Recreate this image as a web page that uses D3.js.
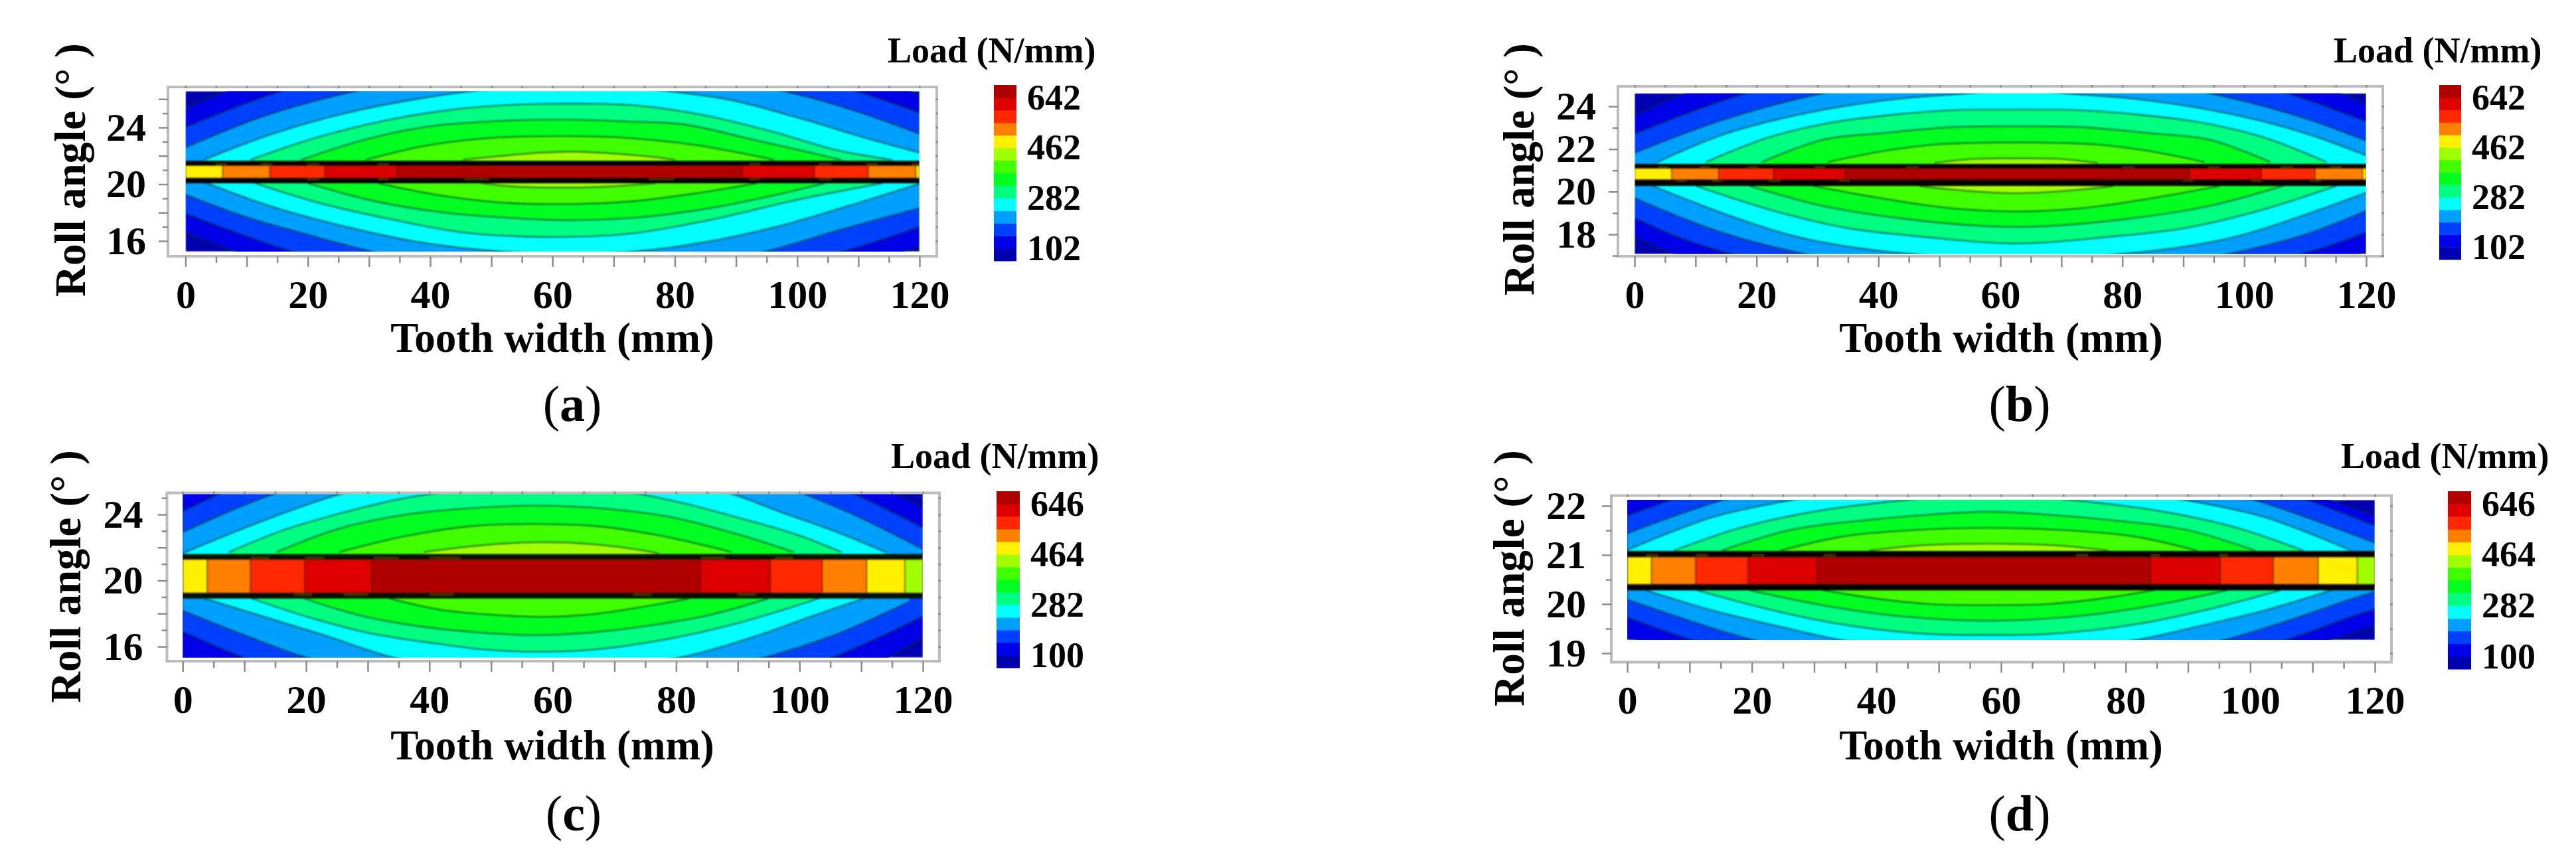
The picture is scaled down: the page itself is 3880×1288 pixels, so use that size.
<!DOCTYPE html>
<html>
<head>
<meta charset="utf-8">
<title>Tooth load distribution</title>
<script src="https://cdn.jsdelivr.net/npm/d3@7"></script>
<style>
    html, body { margin: 0; padding: 0; background: #fff; }
    svg { display: block; }
    text { font-family: "Liberation Serif", serif; font-weight: bold; fill: #000; }
</style>
</head>
<body>
<div id="chart"></div>
<script>
// Band colours, lowest load first (same 14 colours in plot and colour bar)
const bandColors = ['#0000b0', '#0000e8', '#0040ff', '#00a0ff', '#00ffff', '#00ff80', '#00ff20',
    '#40ff00', '#a0ff00', '#fff000', '#ff8000', '#ff2800', '#dd0000', '#b00000'];

// Tick values
const xMajor = [0, 10, 20, 30, 40, 50, 60, 70, 80, 90, 100, 110, 120];
const xMinor = [5, 15, 25, 35, 45, 55, 65, 75, 85, 95, 105, 115];
const xLabels = [0, 20, 40, 60, 80, 100, 120];

const yMajorA = [16, 18, 20, 22, 24, 26];
const yMinorA = [17, 19, 21, 23, 25];
const yLabelsA = [16, 20, 24];
const yMajorB = [18, 20, 22, 24];
const yMinorB = [17, 19, 21, 23];
const yLabelsB = [18, 20, 22, 24];
const yMajorC = [16, 18, 20, 22, 24];
const yMinorC = [17, 19, 21, 23, 25];
const yLabelsC = [16, 20, 24];
const yMajorD = [19, 20, 21, 22];
const yMinorD = [19.5, 20.5, 21.5];
const yLabelsD = [19, 20, 21, 22];

const loadLabelsAB = [102, 282, 462, 642];
const loadLabelsCD = [100, 282, 464, 646];

// Contour lines as [tooth width mm, roll angle deg], left to right, outermost level first
const upperA = [
    [[0, 25.34], [6.6, 26.56], [62.7, 28], [118.7, 26.56], [120, 26.3]],
    [[0, 24.02], [15.7, 26.56], [62.7, 28], [109.6, 26.56], [120, 25.03]],
    [[0, 22.6], [13.5, 24.9], [27.9, 26.56], [62.7, 27.8], [97.8, 26.56], [110, 25.1], [120, 23.55]],
    [[3, 21.72], [13.7, 23.47], [25.6, 24.95], [37.4, 25.97], [46.9, 26.56], [62.7, 27], [78.8, 26.56], [88.7, 25.97], [100.5, 24.64], [110.8, 23.31], [120, 22.22]],
    [[10.6, 21.72], [21.6, 23.31], [33.5, 24.56], [45.3, 25.34], [57.1, 25.65], [63.4, 25.68], [72.9, 25.58], [84.7, 24.87], [96.6, 23.63], [106.8, 22.37], [115.5, 21.72]],
    [[18.9, 21.72], [29.5, 23.16], [39, 24.02], [49.2, 24.41], [61.1, 24.56], [72.9, 24.41], [80.8, 24.25], [92.6, 23.16], [107.2, 21.72]],
    [[29.5, 21.72], [39, 22.69], [49.2, 23.24], [61.1, 23.39], [72.9, 23.24], [83.2, 22.77], [96.2, 21.72]],
    [[45.3, 21.72], [51.6, 21.99], [57.9, 22.22], [63.4, 22.3], [69, 22.19], [76.8, 21.91], [80, 21.72]]
];
const lowerA = [
    [[0, 16.6], [8.2, 15.23], [62.7, 13.5], [117.5, 15.23], [120, 15.6]],
    [[0, 17.93], [8.2, 16.6], [17.7, 15.23], [62.7, 14], [107.2, 15.23], [120, 17]],
    [[0, 19.26], [9.8, 17.7], [20, 16.45], [30.7, 15.23], [62.7, 14.2], [94.6, 15.23], [106.8, 16.76], [120, 18.32]],
    [[3.5, 20.07], [13.7, 18.48], [25.6, 17.07], [37.4, 15.98], [52.8, 15.23], [62.7, 15.05], [72.5, 15.23], [84.7, 15.9], [96.6, 17], [108.4, 18.48], [120, 20.04]],
    [[11.4, 20.07], [21.6, 18.71], [33.5, 17.54], [45.3, 16.61], [54.8, 16.32], [62.6, 16.29], [72.9, 16.53], [84.7, 17.39], [100.5, 18.95], [113.9, 20.07]],
    [[20, 20.07], [31.1, 18.79], [42.1, 18.01], [53.2, 17.62], [62.6, 17.46], [72.9, 17.62], [84.7, 18.24], [95, 19.1], [104.5, 20.07]],
    [[31.5, 20.07], [42.1, 19.18], [51.6, 18.71], [62.6, 18.6], [72.9, 18.79], [83.2, 19.34], [93.4, 20.07]],
    [[48.4, 20.07], [52.4, 19.88], [62.6, 19.76], [72.1, 19.91], [76.8, 20.07]]
];

const upperB = [
    [[0, 23.59], [8.2, 24.62], [62.6, 26], [116, 24.62], [120, 24.1]],
    [[0, 22.72], [18.2, 24.62], [62.6, 26], [107, 24.62], [120, 23.3]],
    [[0, 21.82], [14.2, 23.35], [30.9, 24.62], [62.6, 25.6], [94.3, 24.62], [111, 23.35], [120, 22.4]],
    [[3.8, 21.39], [14.2, 22.65], [22.6, 23.33], [30.9, 23.84], [43.4, 24.36], [55, 24.62], [62.6, 24.8], [70.2, 24.62], [81.8, 24.36], [94.3, 23.84], [102.6, 23.33], [111, 22.65], [120, 21.7]],
    [[11.7, 21.39], [22.6, 22.6], [30.9, 23.17], [43.4, 23.64], [53.4, 23.84], [62.6, 23.85], [71.8, 23.84], [81.8, 23.64], [94.3, 23.17], [102.6, 22.6], [113.5, 21.39]],
    [[20.9, 21.39], [30.9, 22.44], [41.3, 22.76], [50.9, 23.01], [62.6, 23.07], [74.3, 23.01], [83.9, 22.76], [94.3, 22.44], [104.3, 21.39]],
    [[31.7, 21.39], [41.3, 21.93], [49.6, 22.22], [55.9, 22.29], [62.6, 22.31], [69.3, 22.29], [75.6, 22.22], [83.9, 21.93], [93.5, 21.39]],
    [[49.2, 21.35], [55.9, 21.54], [62.6, 21.56], [69.3, 21.54], [76, 21.35]]
];
const lowerB = [
    [[0, 17.88], [6.3, 17.07], [62.6, 15.4], [118.9, 17.07], [120, 17.2]],
    [[0, 18.76], [8, 17.78], [15.9, 17.07], [62.6, 15.8], [109.3, 17.07], [117.2, 17.78], [120, 18.1]],
    [[0, 19.7], [14.2, 18.09], [28, 17.07], [62.6, 16.2], [97.2, 17.07], [111, 18.09], [120, 19.1]],
    [[3, 20.27], [14.2, 19.02], [26.7, 17.88], [39.2, 17.26], [46.7, 17.05], [62.6, 16.7], [78.5, 17.05], [86, 17.26], [98.5, 17.88], [111, 19.02], [120, 19.95]],
    [[10.1, 20.27], [22.6, 19.12], [35, 18.29], [47.5, 17.88], [62.6, 17.57], [77.7, 17.88], [90.2, 18.29], [102.6, 19.12], [115.1, 20.27]],
    [[18.8, 20.27], [30.9, 19.33], [43.4, 18.76], [62.6, 18.35], [81.8, 18.76], [94.3, 19.33], [106.4, 20.27]],
    [[29.2, 20.27], [39.2, 19.75], [51.7, 19.23], [62.6, 19.07], [73.5, 19.23], [86, 19.75], [96, 20.27]],
    [[46.7, 20.27], [51.7, 20.11], [62.6, 19.93], [73.5, 20.11], [78.5, 20.27]]
];

const upperC = [
    [[-5, 26.5], [58, 27.5], [115.3, 25.3], [120, 24.47]],
    [[0, 24.2], [6.3, 25.3], [58, 27], [108.4, 25.3], [120, 23.2]],
    [[0, 22.93], [15.2, 25.3], [58, 26.8], [100.3, 25.3], [109.6, 23.85], [120, 21.9]],
    [[0, 21.65], [12.4, 23.53], [26.2, 25.3], [58, 26.5], [88.6, 25.3], [97.5, 24.07], [105.6, 23], [114.1, 21.7]],
    [[7.5, 21.72], [16.4, 23.06], [26.2, 24.13], [34.3, 24.87], [41.2, 25.3], [57.5, 25.9], [73.2, 25.3], [81.3, 24.67], [89.4, 23.87], [99.9, 22.73], [106.8, 21.72]],
    [[15.2, 21.72], [24.6, 23.06], [35.1, 23.93], [44.8, 24.33], [57, 24.53], [69.1, 24.33], [79.7, 23.8], [89.4, 22.86], [99.1, 21.72]],
    [[25.4, 21.72], [36.7, 22.73], [48, 23.33], [57.8, 23.42], [65.9, 23.33], [77.2, 22.73], [89, 21.72]],
    [[39.1, 21.72], [44.8, 21.99], [51.3, 22.22], [58.2, 22.32], [66.7, 22.19], [74, 21.86], [77.2, 21.65]]
];
const lowerC = [
    [[-5, 14.8], [58, 13.6], [114.5, 15.33], [120, 16.56]],
    [[0, 16.9], [10, 15.33], [58, 14], [105.2, 15.33], [120, 17.83]],
    [[0, 18.17], [10, 16.69], [20.1, 15.33], [58, 14.4], [94.2, 15.33], [105.6, 16.69], [117.7, 18.7]],
    [[3.5, 18.91], [12.4, 17.9], [22.9, 16.69], [34.3, 15.33], [58, 14.8], [80.5, 15.33], [93.4, 16.69], [101.5, 17.77], [110.4, 18.91]],
    [[11.2, 18.91], [20.5, 17.77], [31, 16.76], [41.6, 16.16], [48.9, 15.82], [57.8, 15.69], [66.7, 15.82], [77.2, 16.36], [89.4, 17.36], [103.1, 18.91]],
    [[19.7, 18.91], [28.6, 17.9], [38.3, 17.23], [48.9, 16.83], [57.8, 16.69], [67.5, 16.9], [77.2, 17.36], [85.3, 17.9], [95, 18.91]],
    [[33.5, 18.91], [41.6, 18.24], [51.3, 17.9], [58.2, 17.8], [66.7, 17.97], [74, 18.37], [82.1, 18.91]],
    [[45, 19.1], [58, 19.1], [70, 19.1]]
];

const upperD = [
    [[-5, 22.6], [58, 23], [113, 22.12], [120, 21.8]],
    [[0, 21.8], [6.9, 22.12], [58, 23], [109.1, 22.12], [116, 21.8], [120, 21.6]],
    [[0, 21.44], [15.4, 22.12], [58, 22.8], [100.6, 22.12], [116, 21.44], [120, 21.25]],
    [[0, 21.1], [14, 21.78], [26.4, 22.12], [58, 22.6], [89.6, 22.12], [102, 21.78], [116, 21.1]],
    [[7.5, 21.09], [18.1, 21.55], [30.3, 21.89], [44.7, 22.12], [58, 22.3], [71.3, 22.12], [85.7, 21.89], [97.9, 21.55], [108.5, 21.09]],
    [[15.2, 21.09], [26.2, 21.51], [38.4, 21.71], [46.5, 21.8], [58, 21.88], [69.5, 21.8], [77.6, 21.71], [89.8, 21.51], [100.8, 21.09]],
    [[24.6, 21.09], [34.3, 21.37], [46.5, 21.51], [58, 21.55], [69.5, 21.51], [81.7, 21.37], [91.4, 21.09]],
    [[38.8, 21.09], [46.5, 21.19], [58, 21.23], [69.5, 21.19], [77.2, 21.09]]
];
const lowerD = [
    [[-5, 19.4], [58, 18.5], [113, 19.27], [120, 19.55]],
    [[0, 19.73], [10, 19.28], [58, 18.7], [106, 19.28], [116, 19.73], [120, 19.9]],
    [[0, 20.09], [10, 19.66], [20.1, 19.27], [58, 18.9], [95.9, 19.27], [106, 19.66], [116, 20.09], [120, 20.25]],
    [[3, 20.28], [14, 19.86], [24.2, 19.55], [34.3, 19.27], [58, 19.1], [81.7, 19.27], [91.8, 19.55], [102, 19.86], [113, 20.28]],
    [[11.2, 20.28], [22.2, 19.91], [34.3, 19.59], [48.6, 19.39], [58, 19.37], [67.4, 19.39], [81.7, 19.59], [93.8, 19.91], [104.8, 20.28]],
    [[19.7, 20.28], [30.3, 20], [42.5, 19.77], [50.6, 19.69], [58, 19.66], [65.4, 19.69], [73.5, 19.77], [85.7, 20], [96.3, 20.28]],
    [[31.5, 20.28], [38.4, 20.14], [48.6, 20], [58, 19.98], [67.4, 20], [77.6, 20.14], [84.5, 20.28]],
    [[45, 20.4], [58, 20.4], [71, 20.4]]
];

// Contact band: cell edges along the tooth width and their colour index in bandColors
const cellEdgesAB = [0, 6.1, 13.8, 22.8, 34.6, 91, 102.8, 111.6, 119.4, 120];
const cellBandsAB = [9, 10, 11, 12, 13, 12, 11, 10, 9];
const cellEdgesC = [0, 4, 11, 19.8, 30.7, 83.9, 95.3, 103.7, 110.9, 117.1, 120];
const cellEdgesD = [0, 3.9, 11, 19.4, 30.5, 84, 95.2, 103.7, 110.9, 117.2, 120];
const cellBandsCD = [9, 10, 11, 12, 13, 12, 11, 10, 9, 8];

// Olive blots in the black rows of the contact band: from mm, to mm, side (1 above, 0 below)
const blotsA = [[4.9, 6.7, 1], [12.3, 14.2, 1], [19.8, 21.9, 1], [31.4, 33.3, 1], [19.8, 21.9, 0], [31.4, 33.3, 0],
    [45.5, 49.7, 0], [75.7, 79.9, 0], [92.1, 94, 0], [103.5, 105.6, 0], [92.1, 94, 1], [103.5, 105.6, 1], [111.2, 113.1, 1], [118.7, 120, 1]];
const blotsB = [[3.8, 5.5, 1], [10.7, 12.4, 1], [18.5, 20.3, 1], [29.5, 31.3, 1], [44.5, 46.6, 1], [6.7, 8.5, 0], [12.6, 14.4, 0],
    [22, 24, 0], [33.5, 35.3, 0], [89.9, 91.7, 0], [101, 103, 0], [110.8, 112.6, 0], [80, 82, 1], [94, 96, 1], [106, 108, 1], [114, 116, 1]];
const blotsC = [[11, 14, 1], [19.8, 23, 1], [31, 35, 1], [40, 45, 1], [84, 88, 1], [96, 99, 1], [18, 21, 0], [26, 30, 0], [40, 44, 0], [73, 76, 0], [90, 93, 0]];
const blotsD = [[3, 5, 1], [11, 13, 1], [20, 22, 1], [31.5, 33.5, 1], [72, 74, 1], [84, 85.5, 1], [95, 96.5, 1]];

const panels = [
    {
        name: 'a', upper: upperA, lower: lowerA, cellEdges: cellEdgesAB, cellBands: cellBandsAB, blots: blotsA,
        yMajor: yMajorA, yMinor: yMinorA, yLabels: yLabelsA, loadLabels: loadLabelsAB,
        heatY: [15.25, 26.56], bandY: [20.07, 21.65], cellY: [20.43, 21.32], bandFill: '#000',
        xRange: [279.4, 1385], yDomain: [16, 24], yRange: [363, 192],
        frame: [253, 131, 1411, 386], bar: [1497, 128, 1531, 393],
        titleX: 1337, titleY: 94, rollX: 128, rollY: [447, 65], xTitleX: 832, xTitleY: 530, tagX: 862, tagY: 634, yPad: 19
    },
    {
        name: 'b', upper: upperB, lower: lowerB, cellEdges: cellEdgesAB, cellBands: cellBandsAB, blots: blotsB,
        yMajor: yMajorB, yMinor: yMinorB, yLabels: yLabelsB, loadLabels: loadLabelsAB,
        heatY: [17.07, 24.62], bandY: [20.27, 21.3], cellY: [20.56, 21.1], bandFill: '#000',
        xRange: [2462, 3564], yDomain: [18, 24], yRange: [353, 160.3],
        frame: [2437, 130, 3589, 386], bar: [3674, 128, 3707, 391],
        titleX: 3515, titleY: 94, rollX: 2310, rollY: [445, 65], xTitleX: 3014, xTitleY: 530, tagX: 3042, tagY: 634, yPad: 19
    },
    {
        name: 'c', upper: upperC, lower: lowerC, cellEdges: cellEdgesC, cellBands: cellBandsCD, blots: blotsC,
        yMajor: yMajorC, yMinor: yMinorC, yLabels: yLabelsC, loadLabels: loadLabelsCD,
        heatY: [15.33, 25.3], bandY: [18.91, 21.6], cellY: [19.24, 21.28], bandFill: '#061000',
        xRange: [275.2, 1390], yDomain: [16, 24], yRange: [974, 775],
        frame: [251.5, 742.5, 1415, 996], bar: [1501, 740, 1536, 1006],
        titleX: 1342, titleY: 705, rollX: 121, rollY: [1059, 678], xTitleX: 832, xTitleY: 1144, tagX: 864, tagY: 1251, yPad: 22
    },
    {
        name: 'd', upper: upperD, lower: lowerD, cellEdges: cellEdgesD, cellBands: cellBandsCD, blots: blotsD,
        yMajor: yMajorD, yMinor: yMinorD, yLabels: yLabelsD, loadLabels: loadLabelsCD,
        heatY: [19.27, 22.12], bandY: [20.28, 21.08], cellY: [20.4, 20.96], bandFill: '#000',
        xRange: [2451, 3577], yDomain: [19, 22], yRange: [984, 762],
        frame: [2427, 746.6, 3602, 997.5], bar: [3687, 740, 3722, 1008],
        titleX: 3526, titleY: 705, rollX: 2295, rollY: [1064, 678], xTitleX: 3014, xTitleY: 1144, tagX: 3042, tagY: 1251, yPad: 24
    }
];

const svg = d3.select('#chart').append('svg')
    .attr('width', 3880)
    .attr('height', 1288)
    .attr('viewBox', '0 0 3880 1288');

function drawPanel(p) {
    const g = svg.append('g').attr('class', 'panel-' + p.name);
    const x = d3.scaleLinear().domain([0, 120]).range(p.xRange);
    const y = d3.scaleLinear().domain(p.yDomain).range(p.yRange);
    // Chordal variant, the far points beyond the plot edge must not bend the visible part
    const line = d3.line().x(d => x(d[0])).y(d => y(d[1])).curve(d3.curveCatmullRom.alpha(1));

    const clipId = 'clip-' + p.name;
    svg.append('clipPath').attr('id', clipId).append('rect')
        .attr('x', x(0)).attr('y', y(p.heatY[1]))
        .attr('width', x(120) - x(0)).attr('height', y(p.heatY[0]) - y(p.heatY[1]));

    // Filled load bands, outermost first, each one closed between its upper and lower contour
    const heat = g.append('g').attr('clip-path', `url(#${clipId})`).append('g').style('filter', 'blur(0.9px)');
    heat.append('rect')
        .attr('x', x(0)).attr('y', y(p.heatY[1]))
        .attr('width', x(120) - x(0)).attr('height', y(p.heatY[0]) - y(p.heatY[1]))
        .attr('fill', bandColors[0]);
    p.upper.forEach((curve, i) => {
        const back = p.lower[i].slice().reverse();
        heat.append('path')
            .attr('d', line(curve) + 'L' + line(back).slice(1) + 'Z')
            .attr('fill', bandColors[i + 1]);
    });
    p.upper.concat(p.lower).forEach(curve => {
        heat.append('path')
            .attr('d', line(curve))
            .attr('fill', 'none')
            .attr('stroke', 'rgba(0, 50, 50, 0.55)')
            .attr('stroke-width', 2.6);
    });

    // Contact band across the tooth
    heat.append('rect')
        .attr('x', x(0)).attr('y', y(p.bandY[1]))
        .attr('width', x(120) - x(0)).attr('height', y(p.bandY[0]) - y(p.bandY[1]))
        .attr('fill', p.bandFill);
    const rowHeight = (y(p.cellY[1]) - y(p.bandY[1])) * 0.55;
    heat.selectAll('.blot')
        .data(p.blots)
        .enter()
        .append('rect')
        .attr('class', 'blot')
        .attr('x', d => x(d[0]))
        .attr('y', d => (d[2] ? y(p.cellY[1]) - rowHeight : y(p.cellY[0])))
        .attr('width', d => x(d[1]) - x(d[0]))
        .attr('height', rowHeight)
        .attr('fill', '#6a5400')
        .attr('fill-opacity', 0.55);
    heat.selectAll('.cell')
        .data(p.cellBands)
        .enter()
        .append('rect')
        .attr('class', 'cell')
        .attr('x', (d, i) => x(p.cellEdges[i]))
        .attr('y', y(p.cellY[1]))
        .attr('width', (d, i) => x(p.cellEdges[i + 1]) - x(p.cellEdges[i]))
        .attr('height', y(p.cellY[0]) - y(p.cellY[1]))
        .attr('fill', d => bandColors[d])
        .attr('stroke', 'rgba(70, 30, 0, 0.55)')
        .attr('stroke-width', 1.5);

    // Frame
    const [fx0, fy0, fx1, fy1] = p.frame;
    g.append('rect')
        .attr('x', fx0).attr('y', fy0)
        .attr('width', fx1 - fx0).attr('height', fy1 - fy0)
        .attr('fill', 'none')
        .attr('stroke', '#bcbcbc')
        .attr('stroke-width', 4);

    // Axes
    const styleAxis = sel => {
        sel.select('.domain').remove();
        sel.selectAll('line').attr('stroke', '#8c8c8c').attr('stroke-width', 2.5);
        sel.selectAll('text').attr('font-size', 60).attr('fill', '#000');
    };
    const xText = d => (xLabels.includes(d) ? d : '');
    const yText = d => (p.yLabels.includes(d) ? d : '');
    g.append('g').attr('transform', `translate(0,${fy1})`)
        .call(d3.axisBottom(x).tickValues(xMajor).tickSize(16).tickPadding(19).tickFormat(xText))
        .call(styleAxis);
    g.append('g').attr('transform', `translate(0,${fy1})`)
        .call(d3.axisBottom(x).tickValues(xMinor).tickSize(10).tickFormat(''))
        .call(styleAxis);
    g.append('g').attr('transform', `translate(${fx0},0)`)
        .call(d3.axisLeft(y).tickValues(p.yMajor).tickSize(14).tickPadding(p.yPad).tickFormat(yText))
        .call(styleAxis);
    g.append('g').attr('transform', `translate(${fx0},0)`)
        .call(d3.axisLeft(y).tickValues(p.yMinor).tickSize(8).tickFormat(''))
        .call(styleAxis);

    // Small marks on the top and right edges of the frame
    g.append('g').attr('transform', `translate(0,${fy0 + 2})`)
        .call(d3.axisTop(x).tickValues(xMajor.concat(xMinor)).tickSize(4).tickFormat(''))
        .call(styleAxis);
    g.append('g').attr('transform', `translate(${fx1 - 2},0)`)
        .call(d3.axisRight(y).tickValues(p.yMajor.concat(p.yMinor)).tickSize(4).tickFormat(''))
        .call(styleAxis);

    // Colour bar: 14 equal bands, labels fall on band edges
    const [bx0, by0, bx1, by1] = p.bar;
    const loadStep = (p.loadLabels[3] - p.loadLabels[0]) / 12;
    const loadMin = p.loadLabels[0] - loadStep;
    const loadMax = p.loadLabels[3] + loadStep;
    const load = d3.scaleLinear().domain([loadMin, loadMax]).range([by1, by0]);
    g.selectAll('.bar-band')
        .data(bandColors)
        .enter()
        .append('rect')
        .attr('class', 'bar-band')
        .attr('x', bx0)
        .attr('y', (d, i) => load(loadMin + (i + 1) * loadStep))
        .attr('width', bx1 - bx0)
        .attr('height', (by1 - by0) / bandColors.length + 0.5)
        .attr('fill', d => d);
    g.append('g').attr('transform', `translate(${bx1},0)`)
        .call(d3.axisRight(load).tickValues(p.loadLabels).tickSize(0).tickPadding(16))
        .call(sel => {
            sel.select('.domain').remove();
            sel.selectAll('text').attr('font-size', 54).attr('fill', '#000');
        });

    // Titles
    g.append('text')
        .attr('x', p.titleX).attr('y', p.titleY)
        .attr('font-size', 54)
        .text('Load (N/mm)');
    g.append('text')
        .attr('x', p.xTitleX).attr('y', p.xTitleY)
        .attr('text-anchor', 'middle')
        .attr('font-size', 63)
        .text('Tooth width (mm)');
    g.append('text')
        .attr('transform', `translate(${p.rollX},${p.rollY[0]}) rotate(-90)`)
        .attr('font-size', 65)
        .attr('textLength', p.rollY[0] - p.rollY[1])
        .attr('lengthAdjust', 'spacing')
        .attr('xml:space', 'preserve')
        .text('Roll angle (° )');

    // Panel tag, only the letter is bold
    const tag = g.append('text')
        .attr('x', p.tagX).attr('y', p.tagY)
        .attr('text-anchor', 'middle')
        .attr('font-size', 76)
        .style('font-weight', 'normal');
    tag.append('tspan').text('(');
    tag.append('tspan').style('font-weight', 'bold').text(p.name);
    tag.append('tspan').text(')');
}

panels.forEach(drawPanel);
</script>
</body>
</html>
